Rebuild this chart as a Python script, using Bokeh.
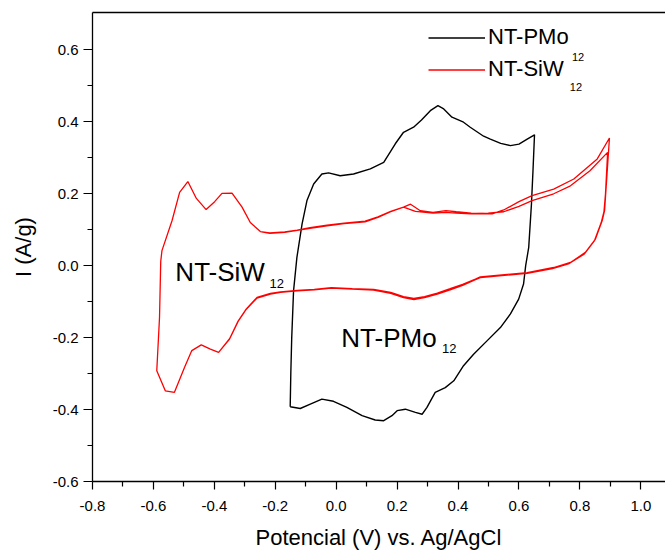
from bokeh.plotting import figure
from bokeh.models import (Range1d, FixedTicker, PrintfTickFormatter, LinearAxis,
                          Legend, LegendItem, Label)
from bokeh.embed import file_html
from bokeh.resources import INLINE

# ---------------- data ----------------
pmo_x = [-0.151, -0.118, -0.085, -0.047, -0.009, 0.035, 0.085, 0.128, 0.156, 0.183,
         0.200, 0.227, 0.260, 0.282, 0.298, 0.325, 0.358, 0.386, 0.418, 0.451,
         0.495, 0.539, 0.572, 0.599, 0.615, 0.622, 0.632, 0.641, 0.646, 0.651,
         0.627, 0.600, 0.572, 0.540, 0.506, 0.484, 0.440, 0.418, 0.380, 0.353,
         0.334, 0.309, 0.280, 0.254, 0.221, 0.194, 0.156, 0.112, 0.057, 0.013,
         -0.025, -0.047, -0.074, -0.096, -0.112, -0.129, -0.140, -0.146, -0.149, -0.151]
pmo_y = [-0.392, -0.397, -0.385, -0.371, -0.377, -0.394, -0.417, -0.429, -0.431, -0.417,
         -0.403, -0.399, -0.408, -0.413, -0.394, -0.352, -0.339, -0.320, -0.278, -0.246,
         -0.209, -0.172, -0.134, -0.093, -0.051, 0.000, 0.051, 0.172, 0.264, 0.364,
         0.352, 0.338, 0.334, 0.340, 0.352, 0.360, 0.385, 0.399, 0.413, 0.436,
         0.445, 0.431, 0.405, 0.385, 0.371, 0.339, 0.287, 0.269, 0.255, 0.250,
         0.258, 0.255, 0.227, 0.181, 0.116, 0.023, -0.070, -0.200, -0.300, -0.392]

siw_cycle1_x = [-0.576, -0.572, -0.539, -0.514, -0.487, -0.459, -0.427, -0.399, -0.375, -0.342,
                -0.309, -0.282, -0.249, -0.218, -0.169, -0.128, -0.086, -0.030, 0.026, 0.095,
                0.137, 0.179, 0.221, 0.244, 0.276, 0.318, 0.360, 0.394, 0.443, 0.512,
                0.550, 0.600, 0.643, 0.714, 0.780, 0.857, 0.897,
                0.881, 0.873, 0.851, 0.818, 0.769, 0.714, 0.627, 0.473, 0.457, 0.415,
                0.374, 0.332, 0.290, 0.255, 0.221, 0.179, 0.123, 0.053, -0.016, -0.072,
                -0.128, -0.183, -0.216, -0.260, -0.295, -0.322, -0.350, -0.386, -0.413, -0.443,
                -0.474, -0.497, -0.531, -0.561, -0.589, -0.580, -0.576]
siw_cycle1_y = [0.012, 0.042, 0.125, 0.204, 0.234, 0.187, 0.156, 0.178, 0.201, 0.202,
                0.163, 0.120, 0.095, 0.090, 0.093, 0.098, 0.104, 0.111, 0.117, 0.122,
                0.134, 0.150, 0.163, 0.171, 0.153, 0.148, 0.153, 0.150, 0.146, 0.144,
                0.155, 0.178, 0.195, 0.213, 0.241, 0.297, 0.355,
                0.153, 0.125, 0.074, 0.037, 0.009, -0.005, -0.019, -0.031, -0.037, -0.052,
                -0.064, -0.076, -0.086, -0.091, -0.086, -0.074, -0.066, -0.064, -0.061, -0.066,
                -0.069, -0.073, -0.077, -0.088, -0.120, -0.154, -0.203, -0.241, -0.232, -0.220,
                -0.236, -0.281, -0.352, -0.348, -0.292, -0.144, 0.012]

siw_cycle2_x = [-0.576, -0.572, -0.539, -0.514, -0.487, -0.459, -0.427, -0.399, -0.375, -0.342,
                -0.309, -0.282, -0.249, -0.218, -0.169, -0.128, -0.086, -0.030, 0.026, 0.095,
                0.137, 0.179, 0.221, 0.260, 0.318, 0.360, 0.394, 0.443, 0.499, 0.550,
                0.600, 0.643, 0.714, 0.769, 0.833, 0.891,
                0.884, 0.879, 0.870, 0.848, 0.815, 0.765, 0.710, 0.627, 0.473, 0.457, 0.415,
                0.374, 0.332, 0.290, 0.255, 0.221, 0.179, 0.123, 0.053, -0.016, -0.072,
                -0.128, -0.183, -0.216, -0.260, -0.295, -0.322, -0.350, -0.386, -0.413, -0.443,
                -0.474, -0.497, -0.531, -0.561, -0.589, -0.580, -0.576]
siw_cycle2_y = [0.012, 0.042, 0.125, 0.204, 0.234, 0.187, 0.156, 0.178, 0.201, 0.202,
                0.163, 0.120, 0.095, 0.091, 0.094, 0.099, 0.106, 0.113, 0.118, 0.124,
                0.136, 0.151, 0.163, 0.151, 0.146, 0.148, 0.146, 0.144, 0.146, 0.150,
                0.165, 0.181, 0.200, 0.222, 0.264, 0.315,
                0.200, 0.150, 0.120, 0.070, 0.033, 0.006, -0.008, -0.021, -0.033, -0.039, -0.055,
                -0.067, -0.079, -0.089, -0.094, -0.089, -0.077, -0.068, -0.065, -0.062, -0.067,
                -0.070, -0.074, -0.079, -0.090, -0.121, -0.155, -0.204, -0.241, -0.232, -0.220,
                -0.236, -0.281, -0.352, -0.348, -0.292, -0.144, 0.012]

x_ticks = [-0.8, -0.6, -0.4, -0.2, 0.0, 0.2, 0.4, 0.6, 0.8, 1.0]
x_minor = [-0.7, -0.5, -0.3, -0.1, 0.1, 0.3, 0.5, 0.7, 0.9]
y_ticks = [-0.6, -0.4, -0.2, 0.0, 0.2, 0.4, 0.6]
y_minor = [-0.5, -0.3, -0.1, 0.1, 0.3, 0.5]

series_names = ["NT-PMo", "NT-SiW"]
subscript = "12"

FONT = "Liberation Sans"
BLACK = "#000000"
RED = "#ff0000"

# ---------------- figure ----------------
p = figure(width=665, height=552, output_backend="svg", toolbar_location=None,
           x_range=Range1d(-0.8, 1.081), y_range=Range1d(-0.6, 0.704),
           min_border_left=92, min_border_right=0, min_border_top=12, min_border_bottom=71,
           x_axis_label="Potencial (V) vs. Ag/AgCl", y_axis_label="I (A/g)")
p.outline_line_color = None
p.grid.visible = False
p.background_fill_color = "white"
p.border_fill_color = "white"

r_pmo = p.line(pmo_x, pmo_y, line_color=BLACK, line_width=1.4)
red_x = siw_cycle1_x + siw_cycle2_x
red_y = siw_cycle1_y + siw_cycle2_y
r_siw = p.line(red_x, red_y, line_color=RED, line_width=1.3)

for ax, ticks, minor in ((p.xaxis[0], x_ticks, x_minor), (p.yaxis[0], y_ticks, y_minor)):
    ax.ticker = FixedTicker(ticks=ticks, minor_ticks=minor)
    ax.formatter = PrintfTickFormatter(format="%.1f")
    ax.axis_line_color = BLACK
    ax.axis_line_width = 1.3
    ax.major_tick_line_color = BLACK
    ax.minor_tick_line_color = BLACK
    ax.major_tick_line_width = 1.2
    ax.minor_tick_line_width = 1.2
    ax.major_tick_in = 0
    ax.minor_tick_in = 0
    ax.major_label_text_font = FONT
    ax.major_label_text_font_size = "15px"
    ax.major_label_text_color = BLACK
    ax.axis_label_text_font = FONT
    ax.axis_label_text_font_size = "22px"
    ax.axis_label_text_font_style = "normal"
    ax.axis_label_text_color = BLACK

p.xaxis[0].major_tick_out = 8
p.xaxis[0].minor_tick_out = 5
p.xaxis[0].major_label_standoff = 11
p.xaxis[0].axis_label_standoff = 11
p.yaxis[0].major_tick_out = 9
p.yaxis[0].minor_tick_out = 5
p.yaxis[0].major_label_standoff = 5
p.yaxis[0].axis_label_standoff = 14

# top frame line
top_ax = LinearAxis(ticker=FixedTicker(ticks=[]), axis_line_color=BLACK, axis_line_width=1.3,
                    major_tick_line_color=None, minor_tick_line_color=None,
                    major_label_text_font_size="0px")
p.add_layout(top_ax, "above")

# legend
legend = Legend(items=[LegendItem(label=series_names[0], renderers=[r_pmo]),
                       LegendItem(label=series_names[1], renderers=[r_siw])],
                location=(336, 399), padding=0, margin=0, spacing=6,
                glyph_width=57, glyph_height=25, label_height=25, label_standoff=3,
                label_text_font=FONT, label_text_font_size="22px", label_text_color=BLACK,
                background_fill_alpha=0, border_line_color=None)
p.add_layout(legend)

# legend subscripts
p.add_layout(Label(x=0.774, y=0.581, text=subscript, text_font=FONT, text_font_size="11px",
                   text_baseline="alphabetic", text_color=BLACK))
p.add_layout(Label(x=0.767, y=0.496, text=subscript, text_font=FONT, text_font_size="11px",
                   text_baseline="alphabetic", text_color=BLACK))

# in-plot labels
p.add_layout(Label(x=-0.528, y=-0.0186, text=series_names[1], text_font=FONT,
                   text_font_size="26px", text_baseline="alphabetic", text_color=BLACK))
p.add_layout(Label(x=-0.219, y=-0.049, text=subscript, text_font=FONT,
                   text_font_size="13px", text_baseline="alphabetic", text_color=BLACK))
p.add_layout(Label(x=0.0168, y=-0.201, text=series_names[0], text_font=FONT,
                   text_font_size="26px", text_baseline="alphabetic", text_color=BLACK))
p.add_layout(Label(x=0.3475, y=-0.230, text=subscript, text_font=FONT,
                   text_font_size="13px", text_baseline="alphabetic", text_color=BLACK))

open("out.html", "w").write(file_html(p, INLINE))
